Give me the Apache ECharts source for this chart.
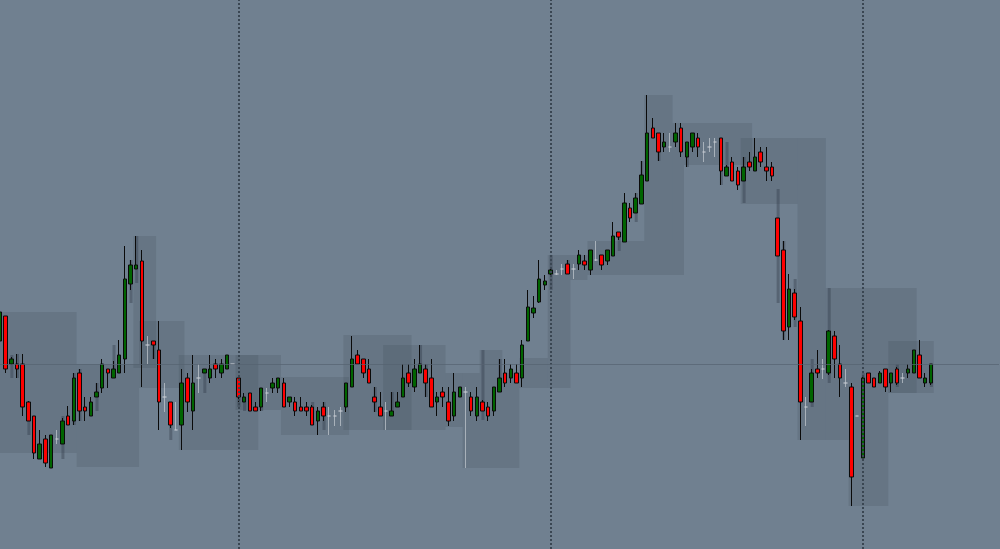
<!DOCTYPE html>
<html>
<head>
<meta charset="utf-8">
<script src="https://cdn.jsdelivr.net/npm/echarts@6/dist/echarts.min.js"></script>
<style>html,body{margin:0;padding:0;background:#708090;}#c{width:1000px;height:549px;}</style>
</head>
<body>
<div id="c"></div>
<script>
// OHLC: [open, close, low, high]
const ohlc = [
[208,237,207,238],[233,180,176,233],[185,190,184,192],[185,180,171,195],[185,142,133,195],
[147,128,128,148],[133,96,90,133],[90,105,90,119],[110,86,82,114],[81,114,81,114],
[110,110,105,119],[105,128,105,131],[133,124,124,143],[128,171,124,176],[176,138,128,180],
[142,138,128,152],[133,147,133,152],[152,157,152,166],[161,185,156,190],[180,176,161,180],
[171,180,171,188],[176,194,176,209],[190,270,176,303],[265,284,259,289],[280,284,280,313],
[288,208,162,299],[204,204,185,213],[208,204,190,208],[199,147,119,228],[152,152,137,166],
[147,124,121,147],[119,119,119,147],[124,166,99,180],[171,147,137,176],[138,166,119,194],
[171,171,156,185],[176,180,176,180],[171,180,166,194],[185,180,171,190],[176,185,171,190],
[180,194,180,194],[185,185,185,185],[171,152,147,171],[147,152,147,156],[156,138,138,156],
[142,138,138,147],[142,161,138,161],[156,156,147,161],[161,166,156,171],[161,171,156,171],
[166,142,142,171],[147,152,142,152],[147,138,133,152],[142,138,138,152],[142,138,133,147],
[142,124,124,144],[128,138,114,142],[142,133,128,147],[133,133,114,142],[133,133,123,139],
[138,138,123,142],[142,166,137,166],[162,190,162,213],[194,185,185,199],[190,176,171,190],
[180,166,166,190],[152,147,137,162],[142,133,133,157],[138,138,119,147],[133,138,133,157],
[142,147,142,157],[152,171,152,185],[176,166,162,185],[162,180,157,190],[176,185,176,204],
[180,166,152,185],[171,142,142,190],[147,152,133,157],[157,152,142,162],[147,128,123,162],
[133,157,128,176],[152,162,152,162],[157,157,81,162],[152,138,133,157],[133,152,128,162],
[147,138,138,149],[142,133,128,147],[138,162,133,162],[157,171,157,190],[176,166,162,190],
[171,180,166,185],[176,166,166,185],[171,204,162,209],[208,242,208,259],[236,241,231,253],
[247,270,246,289],[264,268,259,274],[275,279,273,281],[275,275,274,279],[280,280,274,285],
[285,275,275,289],[280,280,270,285],[285,294,279,299],[288,284,279,294],[279,299,274,299],
[289,289,288,308],[294,284,279,294],[288,299,284,299],[293,313,293,327],[317,312,309,317],
[307,346,307,356],[341,331,327,346],[336,351,336,356],[345,374,345,388],[368,416,368,454],
[421,411,411,431],[416,397,388,416],[402,407,397,416],[402,402,397,416],[407,416,402,426],
[421,397,392,426],[392,407,382,407],[402,416,397,416],[411,402,392,416],[397,397,387,407],
[402,402,397,411],[407,407,392,411],[411,378,364,411],[373,382,373,384],[387,368,368,392],
[378,364,359,382],[368,382,368,392],[387,382,378,397],[378,392,378,411],[397,387,382,402],
[382,378,368,402],[382,373,368,387],[331,293,293,331],[299,218,209,308],[222,260,209,275],
[256,232,229,260],[228,147,109,242],[142,142,123,152],[147,176,147,180],[180,176,171,199],
[180,180,170,190],[176,218,174,219],[213,190,171,218],[185,171,152,204],[166,166,162,180],
[162,72,43,166],[133,133,133,133],[91,171,91,174],[176,166,166,176],[171,162,162,171],
[166,176,166,178],[180,162,157,180],[166,176,157,176],[180,166,164,182],[171,171,166,176],
[176,180,171,185],[176,199,176,199],[194,171,171,209],[166,171,162,176],[166,185,164,185]
];
const slotCount = 177;
const categories = Array.from({length: slotCount}, (_, i) => String(i));
// translucent range behind candles: [index, low, high]
const shadowRanges = [
[2,171,194],[3,171,195],[5,114,147],[11,90,133],[13,124,176],[14,128,180],[17,138,166],[20,171,204],
[23,246,289],[24,266,313],[27,190,208],[30,109,147],[36,156,180],[42,142,171],[43,138,152],[46,138,161],
[55,124,147],[57,119,147],[66,137,162],[69,133,157],[74,176,204],[75,152,185],[85,129,199],[88,157,190],
[97,259,294],[100,275,289],[109,298,317],[112,327,356],[113,345,388],[116,388,416],[121,382,407],
[127,364,411],[128,373,407],[131,346,392],[137,246,360],[138,209,308],[140,222,270],[143,142,190],
[146,166,261],[152,91,176],[158,162,185],[164,162,185]
];
// zones: [startIndex, endIndex, top, bottom]
const zones = [
[0,13,237,96],[14,24,185,82],[24,27,313,181],[25,32,228,161],[32,45,194,99],[42,49,194,139],
[50,61,172,114],[61,72,214,119],[68,78,204,119],[79,81,176,122],[82,91,176,81],[85,88,199,176],
[92,96,191,161],[97,100,294,161],[101,103,294,269],[104,120,308,274],[114,118,454,308],
[119,132,426,384],[119,120,384,308],[131,140,411,345],[141,145,411,109],
[146,161,261,156],[146,149,156,109],[150,156,156,43],[157,164,208,156]
];
const sessionStarts = [42, 97, 152];
const referenceLevel = 184.5;

const dojiColor = 'rgba(196,203,210,0.7)';
const candleData = ohlc.map(v => (v[0] === v[1])
  ? {value: v, itemStyle: {color: dojiColor, color0: dojiColor, borderColor: dojiColor, borderColor0: dojiColor}}
  : {value: v});

const chart = echarts.init(document.getElementById('c'), null, {renderer: 'canvas'});
chart.setOption({
  backgroundColor: '#708090',
  animation: false,
  grid: {left: 0, right: 1, top: 0, bottom: 0, containLabel: false},
  xAxis: {type: 'category', data: categories, boundaryGap: false, show: false},
  yAxis: {type: 'value', min: 0, max: 549, show: false, splitLine: {show: false}},
  series: [
    {
      type: 'custom', name: 'zones', z: 1, silent: true,
      encode: {x: [0, 1], y: [2, 3]},
      data: zones,
      renderItem: function (params, api) {
        const p1 = api.coord([api.value(0), api.value(2)]);
        const p2 = api.coord([api.value(1), api.value(3)]);
        const bw = api.size([1, 0])[0];
        return {type: 'rect', shape: {x: p1[0] - bw / 2, y: p1[1], width: p2[0] - p1[0] + bw, height: p2[1] - p1[1]},
          style: {fill: 'rgba(55,66,78,0.17)'}};
      }
    },
    {
      type: 'custom', name: 'shadow', z: 2, silent: true,
      encode: {x: 0, y: [1, 2]},
      data: shadowRanges,
      renderItem: function (params, api) {
        const lo = api.coord([api.value(0), api.value(1)]);
        const hi = api.coord([api.value(0), api.value(2)]);
        return {type: 'rect', shape: {x: lo[0] - 1, y: hi[1], width: 3, height: lo[1] - hi[1]},
          style: {fill: 'rgba(40,50,62,0.35)'}};
      }
    },
    {
      type: 'candlestick', name: 'price', z: 3, barWidth: 4,
      data: candleData,
      itemStyle: {color: '#006400', color0: '#ff0000', borderColor: '#0a0a0a', borderColor0: '#0a0a0a', borderWidth: 1},
      markLine: {
        silent: true, symbol: 'none', label: {show: false},
        data: [
          ...sessionStarts.map(i => ({xAxis: i, lineStyle: {color: '#3a4652', width: 2, type: [2, 2]}})),
          {yAxis: referenceLevel, lineStyle: {color: 'rgba(85,98,112,0.7)', width: 1, type: 'solid'}}
        ]
      }
    }
  ]
});
</script>
</body>
</html>
